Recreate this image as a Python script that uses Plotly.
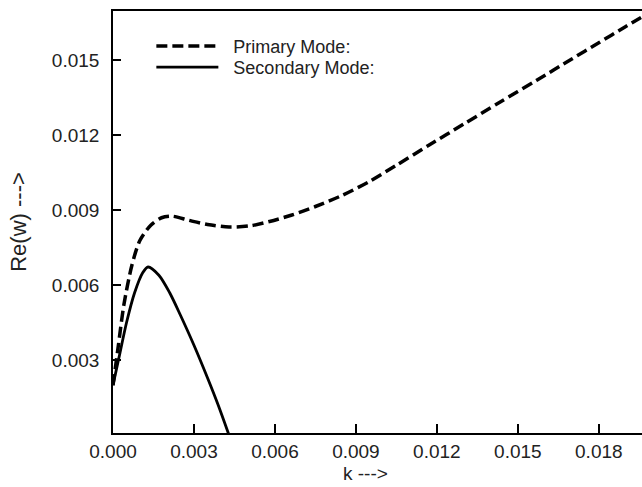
import plotly.graph_objects as go

# Primary mode (dashed)
k_primary = [0.0, 0.0002, 0.0004, 0.0007, 0.0010, 0.0014, 0.0018, 0.0022, 0.0028,
             0.0035, 0.0043, 0.0051, 0.0058, 0.0066, 0.0075, 0.0085, 0.0095, 0.0105,
             0.0117, 0.0130, 0.0143, 0.0157, 0.0170, 0.0180, 0.0190, 0.0197]
re_primary = [0.0020, 0.0036, 0.0052, 0.0068, 0.0078, 0.0084, 0.0087, 0.00876, 0.0086,
              0.00843, 0.00833, 0.00838, 0.00855, 0.0088, 0.00915, 0.0096, 0.01015, 0.0108,
              0.0116, 0.01245, 0.0133, 0.0142, 0.01505, 0.0157, 0.01635, 0.0168]

# Secondary mode (solid)
k_secondary = [0.0, 0.00026, 0.0005, 0.0008, 0.0011, 0.0013, 0.0017, 0.0021, 0.0025,
               0.0030, 0.0035, 0.0039, 0.0043]
re_secondary = [0.0020, 0.0033, 0.0045, 0.0057, 0.0065, 0.00673, 0.0064, 0.0057, 0.0048,
                0.0036, 0.0023, 0.0012, 0.0000]

x_ticks = [0.000, 0.003, 0.006, 0.009, 0.012, 0.015, 0.018]
x_tick_labels = ["0.000", "0.003", "0.006", "0.009", "0.012", "0.015", "0.018"]
y_ticks = [0.003, 0.006, 0.009, 0.012, 0.015]
y_tick_labels = ["0.003", "0.006", "0.009", "0.012", "0.015"]

FONT = "Liberation Sans, Arial, sans-serif"
TXT = "#222"
NB = "\u00a0\u00a0"

fig = go.Figure()
fig.add_trace(go.Scatter(
    x=k_primary, y=re_primary, mode="lines", name=NB + "Primary Mode:",
    line=dict(color="black", width=3.5, dash="11px,5px", shape="spline", smoothing=0.8),
    legend="legend",
))
fig.add_trace(go.Scatter(
    x=k_secondary, y=re_secondary, mode="lines", name=NB + "Secondary Mode:",
    line=dict(color="black", width=2.8, shape="spline", smoothing=0.8),
    legend="legend2",
))

leg_common = dict(
    xanchor="left", yanchor="top",
    bgcolor="rgba(0,0,0,0)", borderwidth=0,
    font=dict(family=FONT, size=18, color=TXT),
    itemwidth=62,
)

fig.update_layout(
    width=642, height=487,
    margin=dict(l=113, r=0, t=11, b=54),
    paper_bgcolor="white", plot_bgcolor="white",
    font=dict(family=FONT, size=20, color=TXT),
    showlegend=True,
    legend=dict(x=0.0725, y=0.96, **leg_common),
    legend2=dict(x=0.0725, y=0.91, **leg_common),
    xaxis=dict(
        range=[0, 0.0196], tickvals=x_ticks, ticktext=x_tick_labels,
        showline=True, linecolor="black", linewidth=1.6, mirror=True,
        ticks="inside", ticklen=9, tickwidth=1.6, tickcolor="black",
        showgrid=False, zeroline=False,
        tickfont=dict(family=FONT, size=19, color=TXT),
    ),
    yaxis=dict(
        range=[0.00009, 0.01697], tickvals=y_ticks, ticktext=y_tick_labels,
        showline=True, linecolor="black", linewidth=1.6, mirror=False,
        ticks="inside", ticklen=8, tickwidth=1.6, tickcolor="black",
        showgrid=False, zeroline=False,
        tickfont=dict(family=FONT, size=19, color=TXT),
        ticklabelstandoff=8,
        title=dict(text="Re(w) --->", font=dict(family=FONT, size=22, color=TXT), standoff=19),
    ),
    annotations=[dict(
        text="k --->", xref="paper", yref="paper", x=0.478, y=-0.096,
        xanchor="center", yanchor="middle", showarrow=False,
        font=dict(family=FONT, size=19, color=TXT),
    )],
)

fig.write_html(
    "out.html",
    config={"displayModeBar": False},
    post_script="document.body.style.margin='0';document.body.style.overflow='hidden';",
)
